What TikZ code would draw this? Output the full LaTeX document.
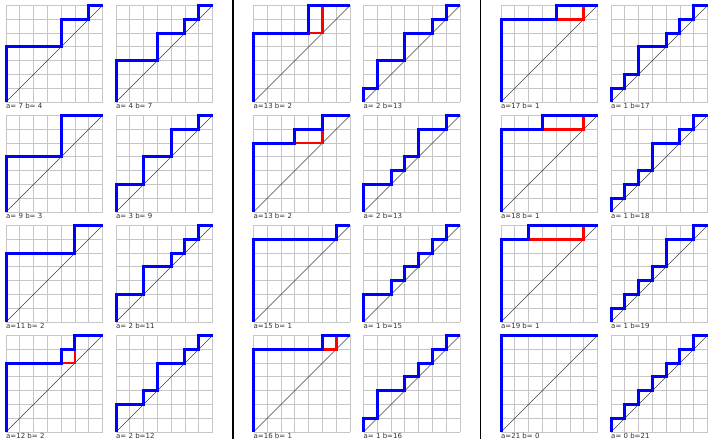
\documentclass[tikz,border=0pt]{standalone}
\usepackage{fontspec}
\setmainfont{DejaVu Sans}
\tikzset{
  gridline/.style={draw=gray!45, line width=0.8pt},
  diag/.style={draw=black!75, line width=0.5pt},
  bluepath/.style={draw=blue, line width=3pt, line join=miter},
  redpath/.style={draw=red, line width=2.6pt},
  lab/.style={anchor=north west, inner sep=0pt, font=\fontsize{7}{8}\selectfont, text=black!80},
  sep/.style={draw=black, line width=1.2pt}
}
\newcommand\dyckpanel[6]{%
  \begin{scope}[shift={(#1pt,#2pt)}, x=13.786pt, y=13.786pt]
    \draw[gridline, step=1] (0,0) grid (7,7);
    \draw[diag] (0,0) -- (7,7);
    \ifx\relax#6\relax\else\draw[redpath] #6;\fi
    \draw[bluepath] #3;
    \node[lab] (#5) at (0,-0.08) {#4};
  \end{scope}}
\begin{document}
\begin{tikzpicture}
\useasboundingbox[fill=white] (0,0) rectangle (714pt,439pt);
\coordinate (s1t) at (233pt,439pt); \coordinate (s1b) at (233pt,0pt);
\coordinate (s2t) at (480.5pt,439pt); \coordinate (s2b) at (480.5pt,0pt);
\draw[sep] (s1t) -- (s1b);
\draw[sep] (s2t) -- (s2b);
% column 1
\dyckpanel{6}{337}{(0,0)--(0,4)--(4,4)--(4,6)--(6,6)--(6,7)--(7,7)}{a= 7 b= 4}{l11}{}
\dyckpanel{6}{227}{(0,0)--(0,4)--(4,4)--(4,7)--(7,7)}{a= 9 b= 3}{l21}{}
\dyckpanel{6}{117}{(0,0)--(0,5)--(5,5)--(5,7)--(7,7)}{a=11 b= 2}{l31}{}
\dyckpanel{6}{7}{(0,0)--(0,5)--(4,5)--(4,6)--(5,6)--(5,7)--(7,7)}{a=12 b= 2}{l41}{(4,5)--(5,5)--(5,6)}
% column 2
\dyckpanel{116}{337}{(0,0)--(0,3)--(3,3)--(3,5)--(5,5)--(5,6)--(6,6)--(6,7)--(7,7)}{a= 4 b= 7}{l12}{}
\dyckpanel{116}{227}{(0,0)--(0,2)--(2,2)--(2,4)--(4,4)--(4,6)--(6,6)--(6,7)--(7,7)}{a= 3 b= 9}{l22}{}
\dyckpanel{116}{117}{(0,0)--(0,2)--(2,2)--(2,4)--(4,4)--(4,5)--(5,5)--(5,6)--(6,6)--(6,7)--(7,7)}{a= 2 b=11}{l32}{}
\dyckpanel{116}{7}{(0,0)--(0,2)--(2,2)--(2,3)--(3,3)--(3,5)--(5,5)--(5,6)--(6,6)--(6,7)--(7,7)}{a= 2 b=12}{l42}{}
% column 3
\dyckpanel{253.5}{337}{(0,0)--(0,5)--(4,5)--(4,7)--(7,7)}{a=13 b= 2}{l13}{(4,5)--(5,5)--(5,7)}
\dyckpanel{253.5}{227}{(0,0)--(0,5)--(3,5)--(3,6)--(5,6)--(5,7)--(7,7)}{a=13 b= 2}{l23}{(3,5)--(5,5)--(5,6)}
\dyckpanel{253.5}{117}{(0,0)--(0,6)--(6,6)--(6,7)--(7,7)}{a=15 b= 1}{l33}{}
\dyckpanel{253.5}{7}{(0,0)--(0,6)--(5,6)--(5,7)--(7,7)}{a=16 b= 1}{l43}{(5,6)--(6,6)--(6,7)}
% column 4
\dyckpanel{363.5}{337}{(0,0)--(0,1)--(1,1)--(1,3)--(3,3)--(3,5)--(5,5)--(5,6)--(6,6)--(6,7)--(7,7)}{a= 2 b=13}{l14}{}
\dyckpanel{363.5}{227}{(0,0)--(0,2)--(2,2)--(2,3)--(3,3)--(3,4)--(4,4)--(4,6)--(6,6)--(6,7)--(7,7)}{a= 2 b=13}{l24}{}
\dyckpanel{363.5}{117}{(0,0)--(0,2)--(2,2)--(2,3)--(3,3)--(3,4)--(4,4)--(4,5)--(5,5)--(5,6)--(6,6)--(6,7)--(7,7)}{a= 1 b=15}{l34}{}
\dyckpanel{363.5}{7}{(0,0)--(0,1)--(1,1)--(1,3)--(3,3)--(3,4)--(4,4)--(4,5)--(5,5)--(5,6)--(6,6)--(6,7)--(7,7)}{a= 1 b=16}{l44}{}
% column 5
\dyckpanel{501}{337}{(0,0)--(0,6)--(4,6)--(4,7)--(7,7)}{a=17 b= 1}{l15}{(4,6)--(6,6)--(6,7)}
\dyckpanel{501}{227}{(0,0)--(0,6)--(3,6)--(3,7)--(7,7)}{a=18 b= 1}{l25}{(3,6)--(6,6)--(6,7)}
\dyckpanel{501}{117}{(0,0)--(0,6)--(2,6)--(2,7)--(7,7)}{a=19 b= 1}{l35}{(2,6)--(6,6)--(6,7)}
\dyckpanel{501}{7}{(0,0)--(0,7)--(7,7)}{a=21 b= 0}{l45}{}
% column 6
\dyckpanel{611}{337}{(0,0)--(0,1)--(1,1)--(1,2)--(2,2)--(2,4)--(4,4)--(4,5)--(5,5)--(5,6)--(6,6)--(6,7)--(7,7)}{a= 1 b=17}{l16}{}
\dyckpanel{611}{227}{(0,0)--(0,1)--(1,1)--(1,2)--(2,2)--(2,3)--(3,3)--(3,5)--(5,5)--(5,6)--(6,6)--(6,7)--(7,7)}{a= 1 b=18}{l26}{}
\dyckpanel{611}{117}{(0,0)--(0,1)--(1,1)--(1,2)--(2,2)--(2,3)--(3,3)--(3,4)--(4,4)--(4,6)--(6,6)--(6,7)--(7,7)}{a= 1 b=19}{l36}{}
\dyckpanel{611}{7}{(0,0)--(0,1)--(1,1)--(1,2)--(2,2)--(2,3)--(3,3)--(3,4)--(4,4)--(4,5)--(5,5)--(5,6)--(6,6)--(6,7)--(7,7)}{a= 0 b=21}{l46}{}
\end{tikzpicture}
\end{document}
